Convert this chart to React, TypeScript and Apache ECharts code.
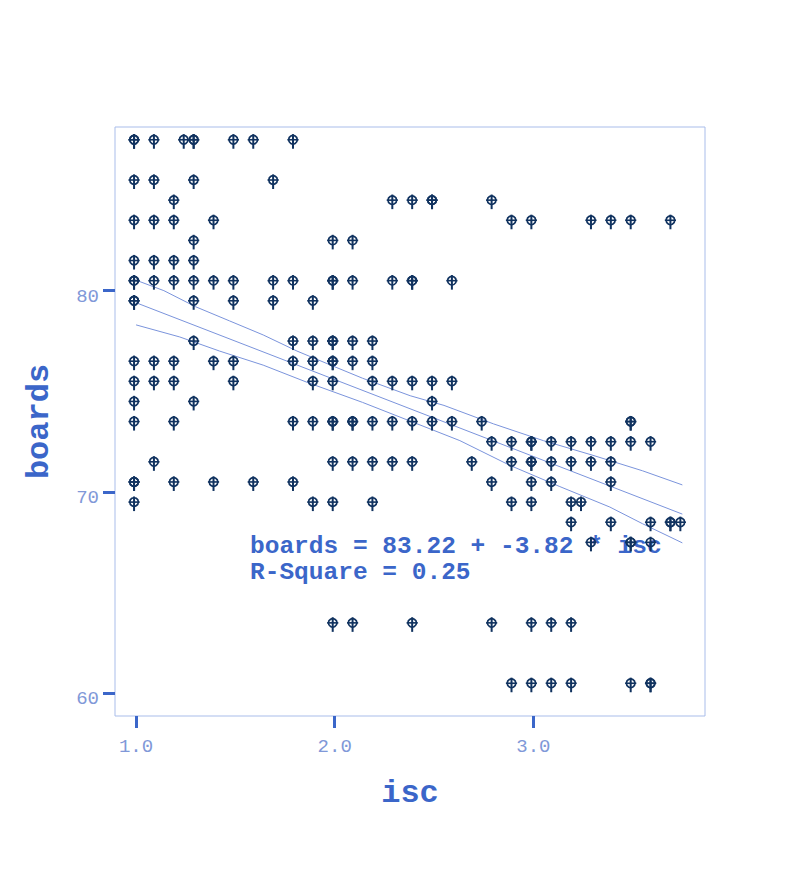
import React, { useEffect, useRef } from "react";
import * as echarts from "echarts";

// ---- data ----
const rowBoards = [87, 85, 84, 83, 82, 81, 80, 79, 77, 76, 75, 74, 73, 72, 71, 70, 69, 68, 67, 63, 60];
const rowIsc = [
  [1.0, 1.0, 1.1, 1.25, 1.3, 1.3, 1.5, 1.6, 1.8],
  [1.0, 1.1, 1.3, 1.7],
  [1.2, 2.3, 2.4, 2.5, 2.5, 2.8],
  [1.0, 1.1, 1.2, 1.4, 2.9, 3.0, 3.3, 3.4, 3.5, 3.7],
  [1.3, 2.0, 2.1],
  [1.0, 1.1, 1.2, 1.3],
  [1.0, 1.0, 1.1, 1.2, 1.3, 1.4, 1.5, 1.7, 1.8, 2.0, 2.0, 2.1, 2.3, 2.4, 2.4, 2.6],
  [1.0, 1.0, 1.3, 1.5, 1.7, 1.9],
  [1.3, 1.8, 1.9, 2.0, 2.0, 2.1, 2.2],
  [1.0, 1.1, 1.2, 1.4, 1.5, 1.8, 1.9, 2.0, 2.0, 2.1, 2.2],
  [1.0, 1.1, 1.2, 1.5, 1.9, 2.0, 2.2, 2.3, 2.4, 2.5, 2.6],
  [1.0, 1.3, 2.5],
  [1.0, 1.2, 1.8, 1.9, 2.0, 2.0, 2.1, 2.1, 2.2, 2.3, 2.4, 2.5, 2.6, 2.75, 3.5, 3.5],
  [2.8, 2.9, 3.0, 3.0, 3.1, 3.2, 3.3, 3.4, 3.5, 3.6],
  [1.1, 2.0, 2.1, 2.2, 2.3, 2.4, 2.7, 2.9, 3.0, 3.0, 3.1, 3.2, 3.3, 3.4],
  [1.0, 1.0, 1.2, 1.4, 1.6, 1.8, 2.8, 3.0, 3.1, 3.4],
  [1.0, 1.9, 2.0, 2.2, 2.9, 3.0, 3.2, 3.25],
  [3.2, 3.4, 3.6, 3.7, 3.7, 3.75],
  [3.3, 3.5, 3.5, 3.6],
  [2.0, 2.1, 2.4, 2.8, 3.0, 3.1, 3.2],
  [2.9, 3.0, 3.1, 3.2, 3.5, 3.6, 3.6],
];

const fitIsc = [1.0, 3.75];
const fitBoards = [79.4, 68.9];

const upperIsc = [1.0, 1.14, 1.3, 1.47, 1.64, 1.81, 1.98, 2.14, 2.38, 2.55, 2.8, 3.05, 3.3, 3.55, 3.75];
const upperBoards = [80.52, 80.0, 79.2, 78.5, 77.8, 77.0, 76.3, 75.65, 74.78, 74.3, 73.38, 72.55, 71.82, 71.05, 70.35];

const lowerIsc = [1.0, 1.22, 1.42, 1.64, 1.86, 2.14, 2.38, 2.63, 2.88, 3.13, 3.385, 3.55, 3.75];
const lowerBoards = [78.3, 77.7, 77.0, 76.3, 75.45, 74.45, 73.52, 72.55, 71.33, 70.28, 69.25, 68.42, 67.47];

const xTicks = [1, 2, 3];
const yTicks = [60, 70, 80];

const equationText = "boards = 83.22 + -3.82 * isc";
const rSquareText = "R-Square = 0.25";

// ---- styles ----
const FONT = '"Liberation Mono", "Courier New", monospace';
const NAVY = "#10325f";
const TITLE = "#3b66c9";
const LABEL = "#8098d8";
const BORDER = "#a9bdea";
const LINE = "#7b94dc";

export default function App() {
  const ref = useRef<HTMLDivElement>(null);

  useEffect(() => {
    if (!ref.current) return;
    const chart = echarts.init(ref.current, undefined, { renderer: "svg" });

    const points: number[][] = [];
    rowBoards.forEach((b, i) => rowIsc[i].forEach((x) => points.push([x, b])));
    const pairs = (xs: number[], ys: number[]) => xs.map((x, i) => [x, ys[i]]);

    const lineSeries = (name: string, data: number[][]) => ({
      name,
      type: "line",
      data,
      showSymbol: false,
      symbol: "none",
      lineStyle: { color: LINE, width: 1 },
      z: 3,
      silent: true,
    });

    chart.setOption({
      animation: false,
      grid: {
        left: 115,
        top: 127,
        width: 590,
        height: 589,
        show: true,
        borderColor: BORDER,
        borderWidth: 1,
        backgroundColor: "transparent",
      },
      xAxis: {
        type: "value",
        min: 0.894,
        max: 3.864,
        name: "isc",
        nameLocation: "middle",
        nameGap: 61,
        nameTextStyle: { fontFamily: FONT, fontWeight: "bold", fontSize: 32, color: TITLE },
        axisLine: { show: false },
        splitLine: { show: false },
        axisTick: {
          show: true,
          customValues: xTicks,
          length: 12,
          lineStyle: { color: TITLE, width: 3 },
        },
        axisLabel: {
          customValues: xTicks,
          formatter: (v: number) => v.toFixed(1),
          margin: 21,
          fontFamily: FONT,
          fontSize: 19,
          color: LABEL,
        },
      },
      yAxis: {
        type: "value",
        min: 58.87,
        max: 88.13,
        name: "boards",
        nameLocation: "middle",
        nameGap: 60,
        nameTextStyle: { fontFamily: FONT, fontWeight: "bold", fontSize: 32, color: TITLE },
        axisLine: { show: false },
        splitLine: { show: false },
        axisTick: {
          show: true,
          customValues: yTicks,
          length: 12,
          lineStyle: { color: TITLE, width: 3 },
        },
        axisLabel: {
          customValues: yTicks,
          formatter: (v: number) => String(v),
          margin: 16,
          verticalAlign: "top",
          lineHeight: 12,
          fontFamily: FONT,
          fontSize: 19,
          color: LABEL,
        },
      },
      graphic: [
        {
          type: "text",
          x: 250,
          y: 546,
          z: 1,
          style: {
            text: equationText,
            fill: TITLE,
            font: `bold 24.5px ${FONT}`,
            verticalAlign: "middle",
            align: "left",
          },
        },
        {
          type: "text",
          x: 250,
          y: 572,
          z: 1,
          style: {
            text: rSquareText,
            fill: TITLE,
            font: `bold 24.5px ${FONT}`,
            verticalAlign: "middle",
            align: "left",
          },
        },
      ],
      series: [
        lineSeries("upper", pairs(upperIsc, upperBoards)),
        lineSeries("fit", pairs(fitIsc, fitBoards)),
        lineSeries("lower", pairs(lowerIsc, lowerBoards)),
        {
          name: "points",
          type: "custom",
          data: points,
          z: 5,
          clip: false,
          renderItem: (_params: any, api: any) => {
            const p = api.coord([api.value(0), api.value(1)]);
            const cx = p[0] - 2;
            const cy = p[1] - 10;
            return {
              type: "group",
              children: [
                {
                  type: "circle",
                  shape: { cx, cy, r: 4.3 },
                  style: { fill: "none", stroke: NAVY, lineWidth: 1.7 },
                },
                {
                  type: "line",
                  shape: { x1: cx - 5.6, y1: cy, x2: cx + 5.6, y2: cy },
                  style: { stroke: NAVY, lineWidth: 1.6 },
                },
                {
                  type: "line",
                  shape: { x1: cx, y1: cy - 5.6, x2: cx, y2: cy + 9 },
                  style: { stroke: NAVY, lineWidth: 2 },
                },
              ],
            };
          },
        },
      ],
    });

    return () => chart.dispose();
  }, []);

  return (
    <div
      ref={ref}
      style={{ position: "absolute", left: 0, top: 0, width: 785, height: 883, background: "#ffffff" }}
    />
  );
}
